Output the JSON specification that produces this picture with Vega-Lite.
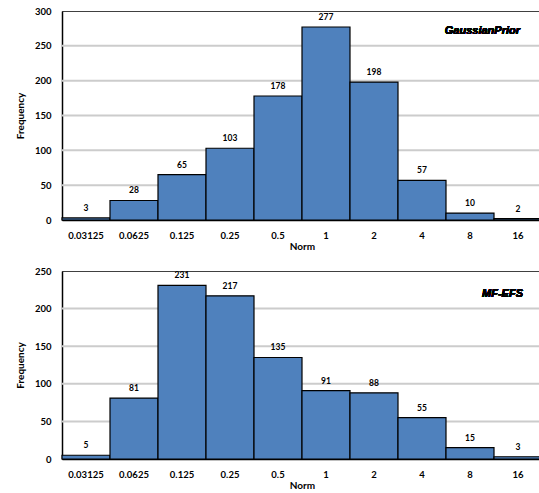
{
  "$schema": "https://vega.github.io/schema/vega-lite/v6.json",
  "padding": {"left": 14, "top": 5, "right": 0, "bottom": 0},
  "spacing": 13,
  "datasets": {
    "gp": [
      {"norm": "0.03125", "freq": 3}, {"norm": "0.0625", "freq": 28}, {"norm": "0.125", "freq": 65},
      {"norm": "0.25", "freq": 103}, {"norm": "0.5", "freq": 178}, {"norm": "1", "freq": 277},
      {"norm": "2", "freq": 198}, {"norm": "4", "freq": 57}, {"norm": "8", "freq": 10}, {"norm": "16", "freq": 2}
    ],
    "mf": [
      {"norm": "0.03125", "freq": 5}, {"norm": "0.0625", "freq": 81}, {"norm": "0.125", "freq": 231},
      {"norm": "0.25", "freq": 217}, {"norm": "0.5", "freq": 135}, {"norm": "1", "freq": 91},
      {"norm": "2", "freq": 88}, {"norm": "4", "freq": 55}, {"norm": "8", "freq": 15}, {"norm": "16", "freq": 3}
    ],
    "grid1": [{"v": 50}, {"v": 100}, {"v": 150}, {"v": 200}, {"v": 250}],
    "grid2": [{"v": 50}, {"v": 100}, {"v": 150}, {"v": 200}]
  },
  "config": {
    "font": "Lato",
    "view": {"stroke": "#404040", "strokeWidth": 1},
    "axis": {
      "labelFont": "Lato", "labelFontWeight": "bold", "labelFontSize": 9.5, "labelColor": "#000",
      "titleFont": "Lato", "titleFontWeight": "bold", "titleFontSize": 10, "titleColor": "#000",
      "domainColor": "#000", "domainWidth": 1.5
    }
  },
  "vconcat": [
    {
      "width": 480, "height": 209,
      "layer": [
        {
          "data": {"name": "grid1"},
          "mark": {"type": "rule", "color": "#cccccc", "strokeWidth": 2},
          "encoding": {
            "y": {"field": "v", "type": "quantitative",
                  "scale": {"domain": [0, 300], "nice": false},
                  "axis": {"title": "Frequency", "values": [0, 50, 100, 150, 200, 250, 300], "labelPadding": 11, "titlePadding": 9, "ticks": false, "grid": false, "labelOverlap": false}}
          }
        },
        {
          "data": {"name": "gp"},
          "encoding": {
            "x": {"field": "norm", "type": "ordinal", "sort": null,
                  "scale": {"paddingInner": 0, "paddingOuter": 0},
                  "axis": {"title": "Norm", "labelAngle": 0, "labelPadding": 10, "titlePadding": 2, "ticks": false, "grid": false}},
            "y": {"field": "freq", "type": "quantitative",
                  "scale": {"domain": [0, 300], "nice": false},
                  "axis": {"title": "Frequency", "values": [0, 50, 100, 150, 200, 250, 300], "labelPadding": 11, "titlePadding": 9, "ticks": false, "grid": false, "labelOverlap": false}}
          },
          "layer": [
            {
              "mark": {"type": "bar", "fill": "#4F81BD", "stroke": "#000", "strokeWidth": 1.2}
            },
            {
              "mark": {"type": "text", "baseline": "bottom", "dy": -5, "font": "Lato", "fontWeight": "bold", "fontSize": 8.5, "color": "#000"},
              "encoding": {
                "text": {"field": "freq"}
              }
            },
            {
              "mark": {"type": "text", "align": "right", "baseline": "middle", "dx": 2, "font": "Liberation Sans", "fontWeight": "bold", "fontStyle": "italic", "fontSize": 11, "color": "#000"},
              "encoding": {
                "x": {"datum": "16", "type": "ordinal"},
                "y": {"datum": 271, "type": "quantitative"},
                "text": {"value": "GaussianPrior"}
              }
            }
          ]
        }
      ]
    },
    {
      "width": 480, "height": 188,
      "layer": [
        {
          "data": {"name": "grid2"},
          "mark": {"type": "rule", "color": "#cccccc", "strokeWidth": 2},
          "encoding": {
            "y": {"field": "v", "type": "quantitative",
                  "scale": {"domain": [0, 250], "nice": false},
                  "axis": {"title": "Frequency", "values": [0, 50, 100, 150, 200, 250], "labelPadding": 11, "titlePadding": 9, "ticks": false, "grid": false, "labelOverlap": false}}
          }
        },
        {
          "data": {"name": "mf"},
          "encoding": {
            "x": {"field": "norm", "type": "ordinal", "sort": null,
                  "scale": {"paddingInner": 0, "paddingOuter": 0},
                  "axis": {"title": "Norm", "labelAngle": 0, "labelPadding": 10, "titlePadding": 2, "ticks": false, "grid": false}},
            "y": {"field": "freq", "type": "quantitative",
                  "scale": {"domain": [0, 250], "nice": false},
                  "axis": {"title": "Frequency", "values": [0, 50, 100, 150, 200, 250], "labelPadding": 11, "titlePadding": 9, "ticks": false, "grid": false, "labelOverlap": false}}
          },
          "layer": [
            {
              "mark": {"type": "bar", "fill": "#4F81BD", "stroke": "#000", "strokeWidth": 1.2}
            },
            {
              "mark": {"type": "text", "baseline": "bottom", "dy": -5, "font": "Lato", "fontWeight": "bold", "fontSize": 8.5, "color": "#000"},
              "encoding": {
                "text": {"field": "freq"}
              }
            },
            {
              "mark": {"type": "text", "align": "right", "baseline": "middle", "dx": 5, "font": "Liberation Sans", "fontWeight": "bold", "fontStyle": "italic", "fontSize": 11, "color": "#000"},
              "encoding": {
                "x": {"datum": "16", "type": "ordinal"},
                "y": {"datum": 219, "type": "quantitative"},
                "text": {"value": "MF-EFS"}
              }
            }
          ]
        }
      ]
    }
  ]
}
